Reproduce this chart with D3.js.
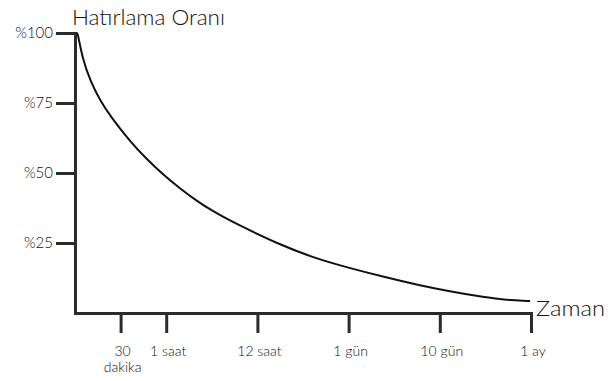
<!DOCTYPE html>
<html>
<head>
<meta charset="utf-8">
<script src="https://cdn.jsdelivr.net/npm/d3@7"></script>
<style>
  html, body { margin: 0; padding: 0; background: #fff; }
  svg { display: block; font-family: Lato, "Noto Sans", sans-serif; }
</style>
</head>
<body>
<svg id="chart" width="608" height="381"></svg>
<script>
// ---- data ----
const tickPositions = [0.1, 0.2, 0.4, 0.6, 0.8, 1.0];
const tickLabels = ["30\ndakika", "1 saat", "12 saat", "1 gün", "10 gün", "1 ay"];
const yTickValues = [25, 50, 75, 100];
const curveX = [0.004, 0.006, 0.016, 0.034, 0.056, 0.078, 0.121, 0.157, 0.194, 0.230, 0.267, 0.303, 0.340, 0.377, 0.450, 0.523, 0.603, 0.675, 0.749, 0.822, 0.895, 0.961, 0.998, 0.998];
const curveY = [100, 100, 91.1, 82.7, 75.6, 70.2, 61.2, 55.0, 49.3, 44.5, 40.0, 36.3, 33.0, 30.0, 24.4, 19.7, 16.0, 13.0, 10.1, 7.7, 5.7, 4.4, 4.3, 4.3];
const titleText = "Hatırlama Oranı";
const xTitleText = "Zaman";

// ---- layout ----
const svg = d3.select("#chart");
const x = d3.scaleLinear().domain([0, 1]).range([75, 531]);
const y = d3.scaleLinear().domain([0, 100]).range([313, 33]);
const axisColor = "#2b2b2b";

// Y axis
const yAxis = svg.append("g").attr("transform", `translate(${x(0)},0)`)
  .call(d3.axisLeft(y).tickValues(yTickValues).tickFormat(d => "%" + d).tickSize(19).tickSizeOuter(0));
yAxis.select(".domain").attr("stroke", axisColor).attr("stroke-width", 3).attr("stroke-linecap", "square");
yAxis.selectAll(".tick line").attr("stroke", axisColor).attr("stroke-width", 3);
yAxis.selectAll(".tick text").attr("x", -22).attr("font-size", 15).attr("fill", "#111")
  .attr("font-weight", 300)
  .attr("font-family", "Lato, 'Noto Sans', sans-serif");

// X axis
const xAxis = svg.append("g").attr("transform", `translate(0,${y(0)})`)
  .call(d3.axisBottom(x).tickValues(tickPositions).tickFormat("").tickSize(20).tickSizeOuter(0));
xAxis.select(".domain").attr("stroke", axisColor).attr("stroke-width", 3).attr("stroke-linecap", "square");
xAxis.selectAll(".tick line").attr("stroke", axisColor).attr("stroke-width", 3);
xAxis.selectAll(".tick").each(function(d, i) {
  const lines = tickLabels[i].split("\n");
  const t = d3.select(this).append("text")
    .attr("x", 1.5).attr("y", 43)
    .attr("text-anchor", "middle")
    .attr("font-size", 14)
    .attr("font-weight", 300)
    .attr("fill", "#111")
    .attr("font-family", "Lato, 'Noto Sans', sans-serif");
  lines.forEach((ln, k) => {
    t.append("tspan").attr("x", 1.5).attr("dy", k === 0 ? 0 : 16).text(ln);
  });
});

// Curve
const pts = curveX.map((v, i) => [v, curveY[i]]);
svg.append("path")
  .datum(pts)
  .attr("fill", "none")
  .attr("stroke", "#111")
  .attr("stroke-width", 2)
  .attr("d", d3.line().x(d => x(d[0])).y(d => y(d[1])).curve(d3.curveBasis));

// Titles
svg.append("text").attr("x", 72).attr("y", 25)
  .attr("font-size", 21).attr("font-weight", 300).attr("fill", "#111")
  .attr("textLength", 153).attr("lengthAdjust", "spacingAndGlyphs")
  .text(titleText);
svg.append("text").attr("x", 536).attr("y", 316)
  .attr("font-size", 21).attr("font-weight", 300).attr("fill", "#111")
  .attr("textLength", 69).attr("lengthAdjust", "spacingAndGlyphs")
  .text(xTitleText);
</script>
</body>
</html>
